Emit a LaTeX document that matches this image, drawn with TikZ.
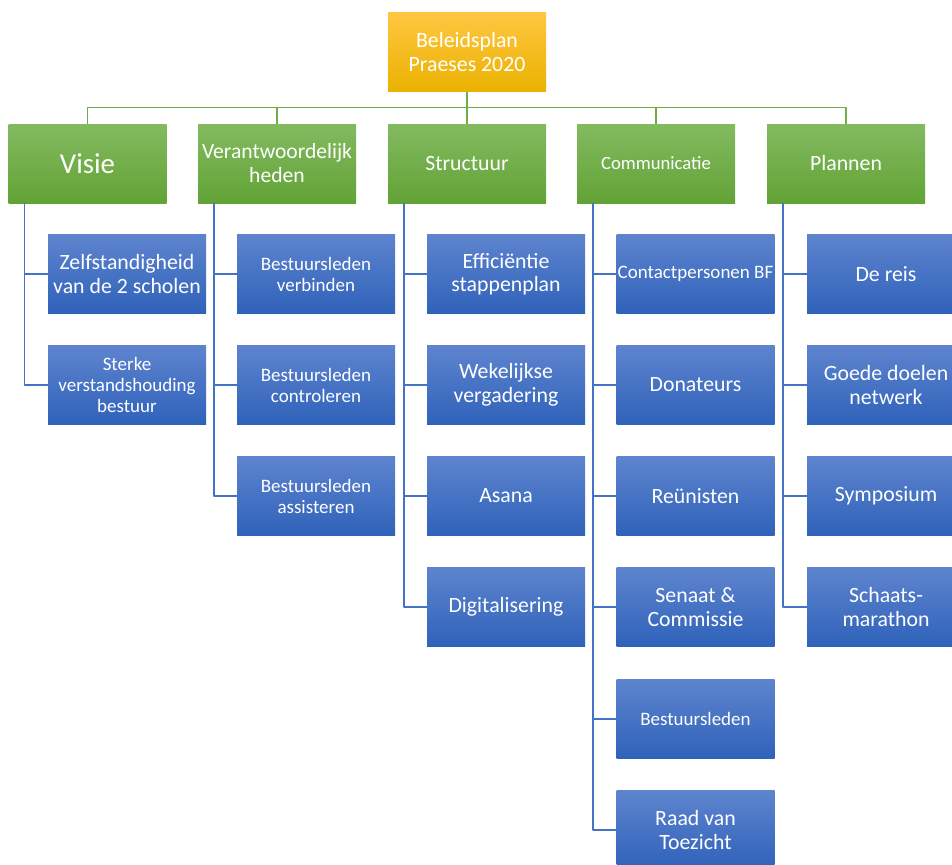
\documentclass[tikz,border=0pt]{standalone}
\usepackage{fontspec}
\setmainfont{Carlito}
\usepackage{tikz}
\usetikzlibrary{shapes}
\usetikzlibrary{backgrounds}

\definecolor{goldTop}{RGB}{255,198,66}
\definecolor{goldBot}{RGB}{234,178,0}
\definecolor{greenTop}{RGB}{131,186,96}
\definecolor{greenBot}{RGB}{98,163,54}
\definecolor{blueTop}{RGB}{94,132,206}
\definecolor{blueBot}{RGB}{47,98,186}
\definecolor{greenLine}{RGB}{112,173,71}
\definecolor{blueLine}{RGB}{68,114,196}

\begin{document}
\begin{tikzpicture}[x=1pt,y=-1pt,line join=round]
\tikzstyle{box} = [rectangle,minimum width=158pt,minimum height=79pt,inner sep=1pt,
                   align=center,text=white,shading=axis,shading angle=0]
\tikzstyle{top} = [box,top color=goldTop,bottom color=goldBot]
\tikzstyle{head} = [box,top color=greenTop,bottom color=greenBot]
\tikzstyle{leaf} = [box,top color=blueTop,bottom color=blueBot]
\tikzstyle{gline} = [draw=greenLine,line width=1.5pt]
\tikzstyle{bline} = [draw=blueLine,line width=1.5pt]
\tikzstyle{big} = [font=\fontsize{21.8}{23.5}\selectfont]
\tikzstyle{mid} = [font=\fontsize{19}{21}\selectfont]
\useasboundingbox (0,0) rectangle (952,864);
% top
\node[top,big] (root) at (467,52) {Beleidsplan\\Praeses 2020};
% level one
\node[head,font=\fontsize{28.8}{30}\selectfont] (visie) at (87.5,163.5) {Visie};
\node[head,font=\fontsize{21.6}{24}\selectfont] (verant) at (277,163.5) {Verantwoordelijk\\heden};
\node[head,big] (struct) at (467,163.5) {Structuur};
\node[head,font=\fontsize{18.7}{20}\selectfont] (comm) at (656,163.5) {Communicatie};
\node[head,big] (plan) at (846,163.5) {Plannen};
% Visie
\node[leaf,big] (v1) at (127,274) {Zelfstandigheid\\van de 2 scholen};
\node[leaf,mid] (v2) at (127,385) {Sterke\\verstandshouding\\bestuur};
% Verantwoordelijkheden
\node[leaf,mid] (r1) at (316,274) {Bestuursleden\\verbinden};
\node[leaf,mid] (r2) at (316,385) {Bestuursleden\\controleren};
\node[leaf,mid] (r3) at (316,496) {Bestuursleden\\assisteren};
% Structuur
\node[leaf,big] (s1) at (506,274) {Efficiëntie\\stappenplan};
\node[leaf,big] (s2) at (506,385) {Wekelijkse\\vergadering};
\node[leaf,big] (s3) at (506,496) {Asana};
\node[leaf,big] (s4) at (506,607) {Digitalisering};
% Communicatie
\node[leaf,mid] (c1) at (695.5,274) {Contactpersonen BF};
\node[leaf,big] (c2) at (695.5,385) {Donateurs};
\node[leaf,big] (c3) at (695.5,496) {Reünisten};
\node[leaf,big] (c4) at (695.5,607) {Senaat \&\\Commissie};
\node[leaf,mid] (c5) at (695.5,719) {Bestuursleden};
\node[leaf,big] (c6) at (695.5,830) {Raad van\\Toezicht};
% Plannen
\node[leaf,big] (p1) at (886,274) {De reis};
\node[leaf,big] (p2) at (886,385) {Goede doelen\\netwerk};
\node[leaf,big] (p3) at (886,496) {Symposium};
\node[leaf,big] (p4) at (886,607) {Schaats-\\marathon};
% green lines
\foreach \h in {visie,verant,struct,comm,plan}
  \draw[gline] (root.south) -- ++(0,16) -| (\h.north);
% blue lines
\foreach \h/\k in {visie/v1,visie/v2,verant/r1,verant/r2,verant/r3,
                   struct/s1,struct/s2,struct/s3,struct/s4,
                   comm/c1,comm/c2,comm/c3,comm/c4,comm/c5,comm/c6,
                   plan/p1,plan/p2,plan/p3,plan/p4}
  \draw[bline] ([xshift=16pt]\h.south west) |- (\k.west);
\end{tikzpicture}
\end{document}
